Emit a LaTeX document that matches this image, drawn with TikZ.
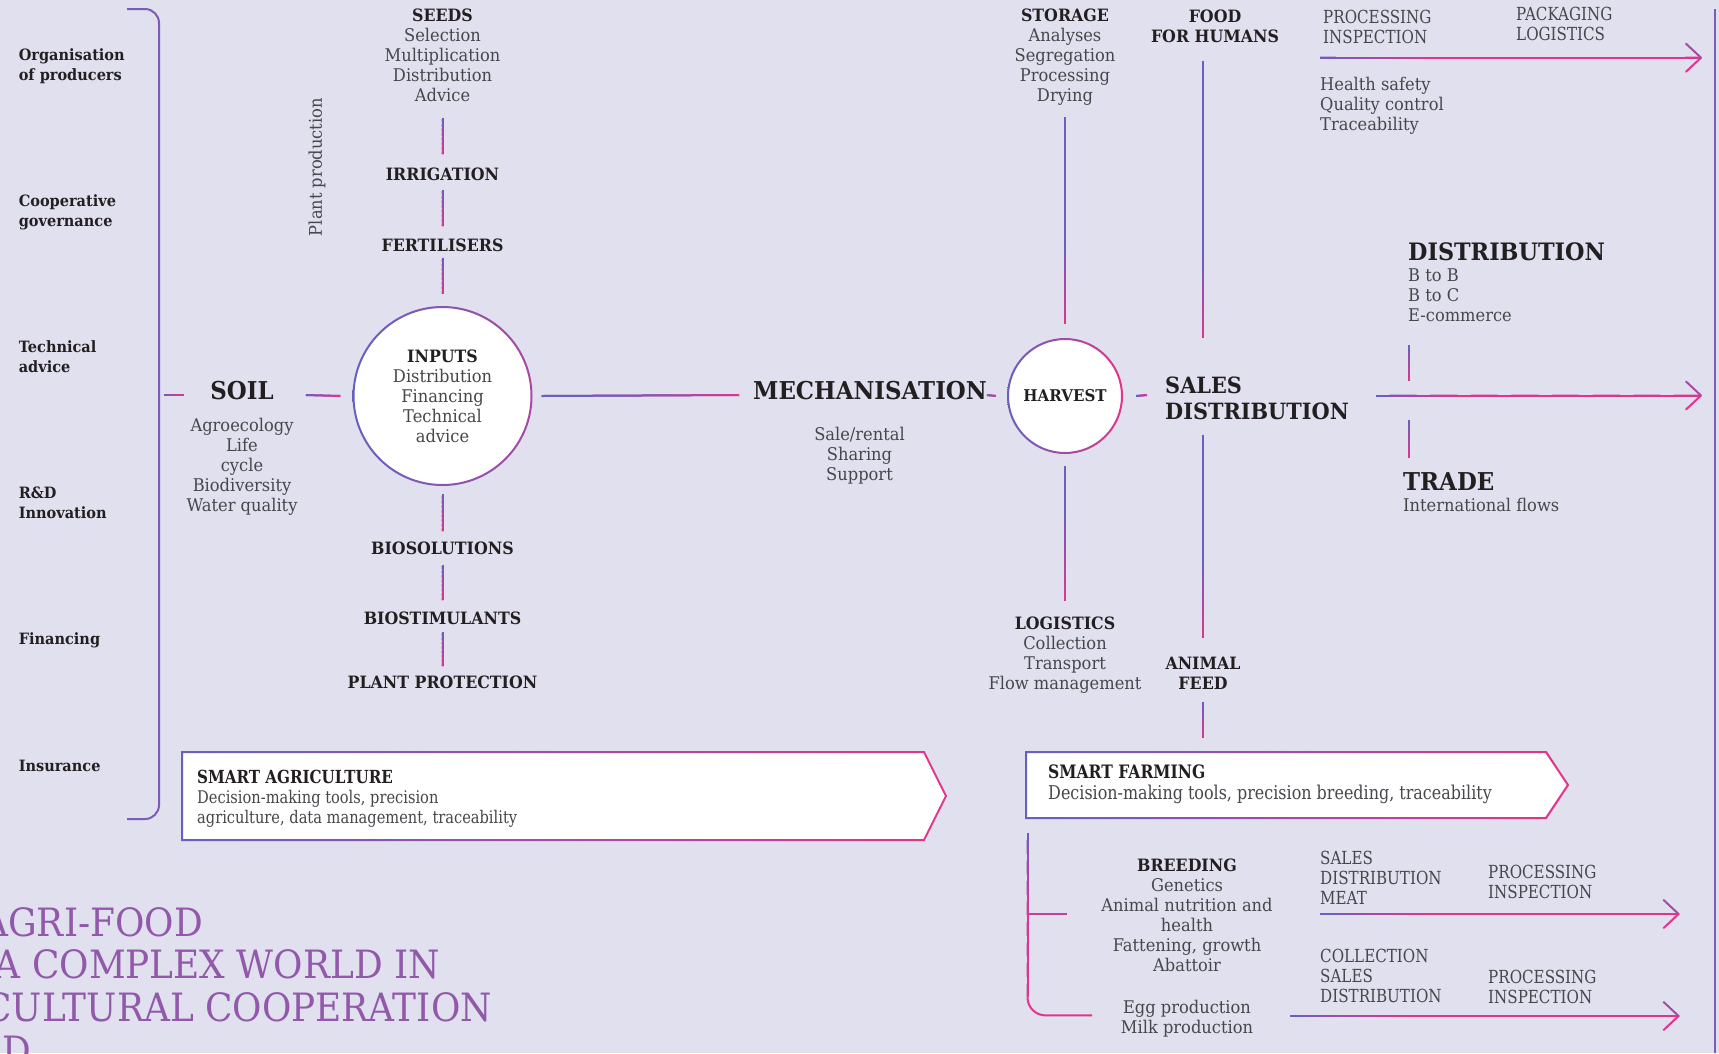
\documentclass[tikz,border=0pt]{standalone}
\usepackage{fontspec}
\setmainfont{DejaVu Serif}[FakeStretch=0.93]
\newfontfamily\narrowserif{DejaVu Serif}[FakeStretch=0.84]
\newfontfamily\titleserif{DejaVu Serif}[FakeStretch=0.92]
\usetikzlibrary{calc}

\definecolor{bg}{RGB}{224,224,238}
\definecolor{cA}{RGB}{104,96,190}
\definecolor{cB}{RGB}{226,52,140}
\definecolor{cM}{RGB}{165,74,165}
\definecolor{ink}{RGB}{35,31,32}
\definecolor{soft}{RGB}{70,70,75}
\definecolor{brk}{RGB}{124,92,182}
\definecolor{ttl}{RGB}{146,88,170}

% gradient connector: colour runs from cA to cB between fractions #1 and #2 of #3 -- #4
\newcommand\gline[4]{%
  \path #3 coordinate (gS) #4 coordinate (gE);
  \draw[conn,draw=cM] (gS) -- (gE);
  \foreach \k in {1,...,24}{%
    \pgfmathsetmacro\ta{(\k-1)/24}%
    \pgfmathsetmacro\tb{\k/24}%
    \pgfmathsetmacro\pc{100*min(1,max(0,((\k-0.5)/24-#1)/(#2-#1)))}%
    \draw[conn,draw=cB!\pc!cA] ($(gS)!\ta!(gE)$) -- ($(gS)!\tb!(gE)$);
  }}
% open chevron arrow head at a named point
\newcommand\chev[1]{%
  \draw[conn,draw=cM,line cap=round] ([shift={(-15pt,14pt)}]#1) -- (#1);
  \draw[conn,draw=cB,line cap=round] ([shift={(-15pt,-14pt)}]#1) -- (#1);}
% shaded outline of a disc node
\newcommand\ring[3]{%
  \shade[left color=cA,right color=#3,even odd rule]
    (#1.center) circle[radius=#2+1pt] circle[radius=#2-1pt];}

\begin{document}
\begin{tikzpicture}[x=1pt,y=-1pt,
  conn/.style={line width=2pt,line cap=butt},
  tHead/.style={inner sep=0pt,text=ink,font=\fontsize{17}{20}\selectfont\bfseries},
  tBig/.style={inner sep=0pt,text=ink,font=\fontsize{24.6}{26}\selectfont\bfseries},
  tBody/.style={inner sep=0pt,text=soft,font=\fontsize{17.5}{20}\selectfont,align=center},
  tSide/.style={inner sep=0pt,text=ink,font=\fontsize{15.6}{20}\selectfont\bfseries,align=left,anchor=west},
  tCaps/.style={inner sep=0pt,text=soft,font=\narrowserif\fontsize{18}{20}\selectfont,align=left,anchor=west},
  tBox/.style={inner sep=0pt,text=soft,font=\narrowserif\fontsize{17.4}{20}\selectfont,align=left,anchor=west},
  tTitle/.style={inner sep=0pt,text=ttl,font=\titleserif\fontsize{39}{42}\selectfont,anchor=base east},
  disc/.style={circle,fill=white,inner sep=0pt},
]
\useasboundingbox (0,0) rectangle (1719,1053);
\fill[bg] (0,0) rectangle (1719,1053);
\clip (0,0) rectangle (1719,1053);

\coordinate (axis) at (0,395);

% ---- cross-cutting services, bracket on the left
\draw[line width=2pt,draw=brk,rounded corners=14pt] (127,9) -- (159,9) -- (159,819) -- (127,819);
\coordinate (brk) at (164,395);
\node[tSide] (org)  at (18.6,66)  {Organisation\\of producers};
\node[tSide] (coop) at (18.6,212) {Cooperative\\governance};
\node[tSide] (tech) at (18.6,357) {Technical\\advice};
\node[tSide] (rnd)  at (18.6,503) {R\&D\\Innovation};
\node[tSide] (fin)  at (18.6,640) {Financing};
\node[tSide] (ins)  at (18.6,766) {Insurance};

% ---- plant production column
\node[tBody,rotate=90] (plantprod) at (317,167) {Plant production};
\node[tBody] (seeds) at (442.5,55) {\textcolor{ink}{\fontsize{17}{20}\selectfont\bfseries SEEDS}\\Selection\\Multiplication\\Distribution\\Advice};
\node[tHead] (irrig) at (442.5,174) {IRRIGATION};
\node[tHead] (fert)  at (442.5,245) {FERTILISERS};
\node[disc,minimum size=178pt,tBody] (inputs) at (442.5,396)
  {\textcolor{ink}{\fontsize{17}{20}\selectfont\bfseries INPUTS}\\Distribution\\Financing\\Technical\\advice};
\node[tHead] (bios)   at (442.5,548) {BIOSOLUTIONS};
\node[tHead] (biost)  at (442.5,618) {BIOSTIMULANTS};
\node[tHead] (plantp) at (442.5,682) {PLANT PROTECTION};

\node[tBig]  (soil)    at (242,391) {SOIL};
\node[tBody] (soilsub) at (242,467) {Agroecology\\Life\\cycle\\Biodiversity\\Water quality};

% ---- mechanisation and harvest
\node[tBig]  (mech)    at (870,391) {MECHANISATION};
\node[tBody] (mechsub) at (859.5,456) {Sale/rental\\Sharing\\Support};
\node[disc,minimum size=114pt,tHead,font=\fontsize{16.2}{20}\selectfont\bfseries] (harvest) at (1065,396) {HARVEST};
\node[tBody] (storage) at (1065,57) {\textcolor{ink}{\fontsize{17}{20}\selectfont\bfseries STORAGE}\\Analyses\\Segregation\\Processing\\Drying};
\node[tBody] (logist)  at (1065,655) {\textcolor{ink}{\fontsize{17}{20}\selectfont\bfseries LOGISTICS}\\Collection\\Transport\\Flow management};

% ---- sales and distribution
\node[tBig,align=left,anchor=west,font=\fontsize{22.4}{26}\selectfont\bfseries] (sales) at (1165,398) {SALES\\DISTRIBUTION};
\node[tHead,align=center] (foodhum) at (1215,26) {FOOD\\FOR HUMANS};
\node[tHead,align=center] (animal)  at (1203,673) {ANIMAL\\FEED};
\node[tCaps] (procins) at (1323,27) {PROCESSING\\INSPECTION};
\node[tCaps] (packlog) at (1516,24) {PACKAGING\\LOGISTICS};
\node[tBody,align=left,anchor=west] (quality) at (1320,106) {Health safety\\Quality control\\Traceability};
\node[tBig,anchor=west,font=\fontsize{24}{26}\selectfont\bfseries] (dist) at (1408,252) {DISTRIBUTION};
\node[tBody,align=left,anchor=north west] (distsub) at (1408,268.8) {B to B\\B to C\\E-commerce};
\node[tBig,anchor=west] (trade) at (1403,482) {TRADE};
\node[tBody,align=left,anchor=west] (flows) at (1403,505) {International flows};

\coordinate (topout)   at (1320,57.7);
\coordinate (toptip)   at (1701,57.7);
\coordinate (salesout) at (1376,395.5);
\coordinate (salestip) at (1701,395.5);

% ---- connectors of the main chain
\gline{0}{1}{(brk)}{($(soil.west|-axis)+(-26,0)$)}
\gline{0}{1}{($(soil.east|-axis)+(32,0)$)}{($(inputs.west)+(-13,0)$)}
\gline{0.4}{1}{($(inputs.east)+(10,0)$)}{($(mech.west|-axis)+(-14,0)$)}
\gline{0}{1}{(mech.east|-axis)}{($(harvest.west)+(-12,0)$)}
\gline{0}{1}{($(harvest.east)+(14,0)$)}{($(sales.west|-axis)+(-18,0)$)}

\gline{0}{1}{($(seeds.south)+(0,16)$)}{($(irrig.north)+(0,-13)$)}
\gline{0}{1}{($(irrig.south)+(0,9)$)}{($(fert.north)+(0,-12)$)}
\gline{0}{1}{($(fert.south)+(0,6)$)}{($(inputs.north)+(0,-13)$)}
\gline{0}{1}{($(inputs.south)+(0,9)$)}{($(bios.north)+(0,-10)$)}
\gline{0}{1}{($(bios.south)+(0,10)$)}{($(biost.north)+(0,-11)$)}
\gline{0}{1}{($(biost.south)+(0,7)$)}{($(plantp.north)+(0,-9)$)}

\gline{0.6}{1}{($(storage.south)+(0,12)$)}{($(harvest.north)+(0,-15)$)}
\gline{0.3}{1}{($(harvest.south)+(0,13)$)}{($(logist.north)+(0,-16)$)}

\gline{0.7}{1}{($(foodhum.south)+(-12,18)$)}{($(foodhum.south|-sales.north)+(-12,-38)$)}
\gline{0.6}{1}{($(foodhum.south|-sales.south)+(-12,15)$)}{($(animal.north)+(0,-19)$)}

\gline{0}{1}{($(distsub.south west)+(1,23)$)}{($(distsub.south west|-axis)+(1,-14)$)}
\gline{0}{1}{($(distsub.south west|-axis)+(1,25)$)}{($(trade.north west)+(6,-15)$)}

\gline{0}{0.3}{(topout)}{(toptip)}
\chev{toptip}
\gline{0}{0.25}{(salesout)}{(salestip)}
\chev{salestip}

\ring{inputs}{89pt}{cB!55!cA}
\ring{harvest}{57pt}{cB}

% ---- smart agriculture banner
\fill[white] (182,752) -- (924,752) -- (946,796) -- (924,840) -- (182,840) -- cycle;
\shade[left color=cA,right color=cB,even odd rule]
  (181,751) -- (924.6,751) -- (947.1,796) -- (924.6,841) -- (181,841) -- cycle
  (183,753) -- (923.4,753) -- (944.9,796) -- (923.4,839) -- (183,839) -- cycle;
\node[tBox] (smartag) at (197,799)
  {{\fontsize{18}{20}\selectfont\bfseries\color{ink}SMART AGRICULTURE}\\Decision-making tools, precision\\agriculture, data management, traceability};

% ---- smart farming banner
\node[inner sep=0pt,minimum width=542pt,minimum height=66pt,anchor=north west] (farmbox) at (1026,752) {};
\fill[white] (1026,752) -- (1546,752) -- (1568,785) -- (1546,818) -- (1026,818) -- cycle;
\shade[left color=cA,right color=cB,even odd rule]
  (1025,751) -- (1546.6,751) -- (1569.2,785) -- (1546.6,819) -- (1025,819) -- cycle
  (1027,753) -- (1545.4,753) -- (1566.8,785) -- (1545.4,817) -- (1027,817) -- cycle;
\node[tBox,font=\narrowserif\fontsize{19}{21}\selectfont] (smartfarm) at (1048,784)
  {{\fontsize{18.5}{21}\selectfont\bfseries\color{ink}SMART FARMING}\\Decision-making tools, precision breeding, traceability};
\gline{0}{1}{($(animal.south)+(0,13)$)}{($(animal.south|-farmbox.north)+(0,-14)$)}

% ---- livestock branch
\node[tBody] (breed) at (1187,915)
  {\textcolor{ink}{\fontsize{17}{20}\selectfont\bfseries BREEDING}\\Genetics\\Animal nutrition and\\health\\Fattening, growth\\Abattoir};
\node[tBody] (eggmilk) at (1187,1019) {Egg production\\Milk production};
\gline{0}{0.5}{($(farmbox.south west)+(1.5,15)$)}{($(farmbox.south west)+(1.5,179)$)}
\draw[conn,draw=cB] ($(farmbox.south west)+(1.5,179)$) arc[start angle=180,end angle=270,radius=18pt] -- ++(46.5,0);
\draw[conn,draw=cB!75!cA] ($(farmbox.south west)+(1.5,96)$) -- ++(39,0);

\node[tCaps] (sdm) at (1320,878) {SALES\\DISTRIBUTION\\MEAT};
\node[tCaps] (pi1) at (1488,882) {PROCESSING\\INSPECTION};
\node[tCaps] (csd) at (1320,976) {COLLECTION\\SALES\\DISTRIBUTION};
\node[tCaps] (pi2) at (1488,987) {PROCESSING\\INSPECTION};
\coordinate (meatout) at (1320,914);
\coordinate (meattip) at (1678.6,914);
\coordinate (eggout)  at (1290,1016);
\coordinate (eggtip)  at (1678.6,1016);
\gline{0}{0.3}{(meatout)}{(meattip)}
\chev{meattip}
\gline{0}{0.3}{(eggout)}{(eggtip)}
\chev{eggtip}

% ---- right frame edge
\draw[line width=2pt,draw=brk] (1714.5,9) -- (1714.5,1053);

% ---- title
\node[tTitle] (t1) at (203,936)  {AGRI-FOOD};
\node[tTitle] (t2) at (440,978)  {A COMPLEX WORLD IN};
\node[tTitle] (t3) at (492,1021) {CULTURAL COOPERATION};
\node[tTitle] (t4) at (31,1064)  {D};
\end{tikzpicture}
\end{document}
